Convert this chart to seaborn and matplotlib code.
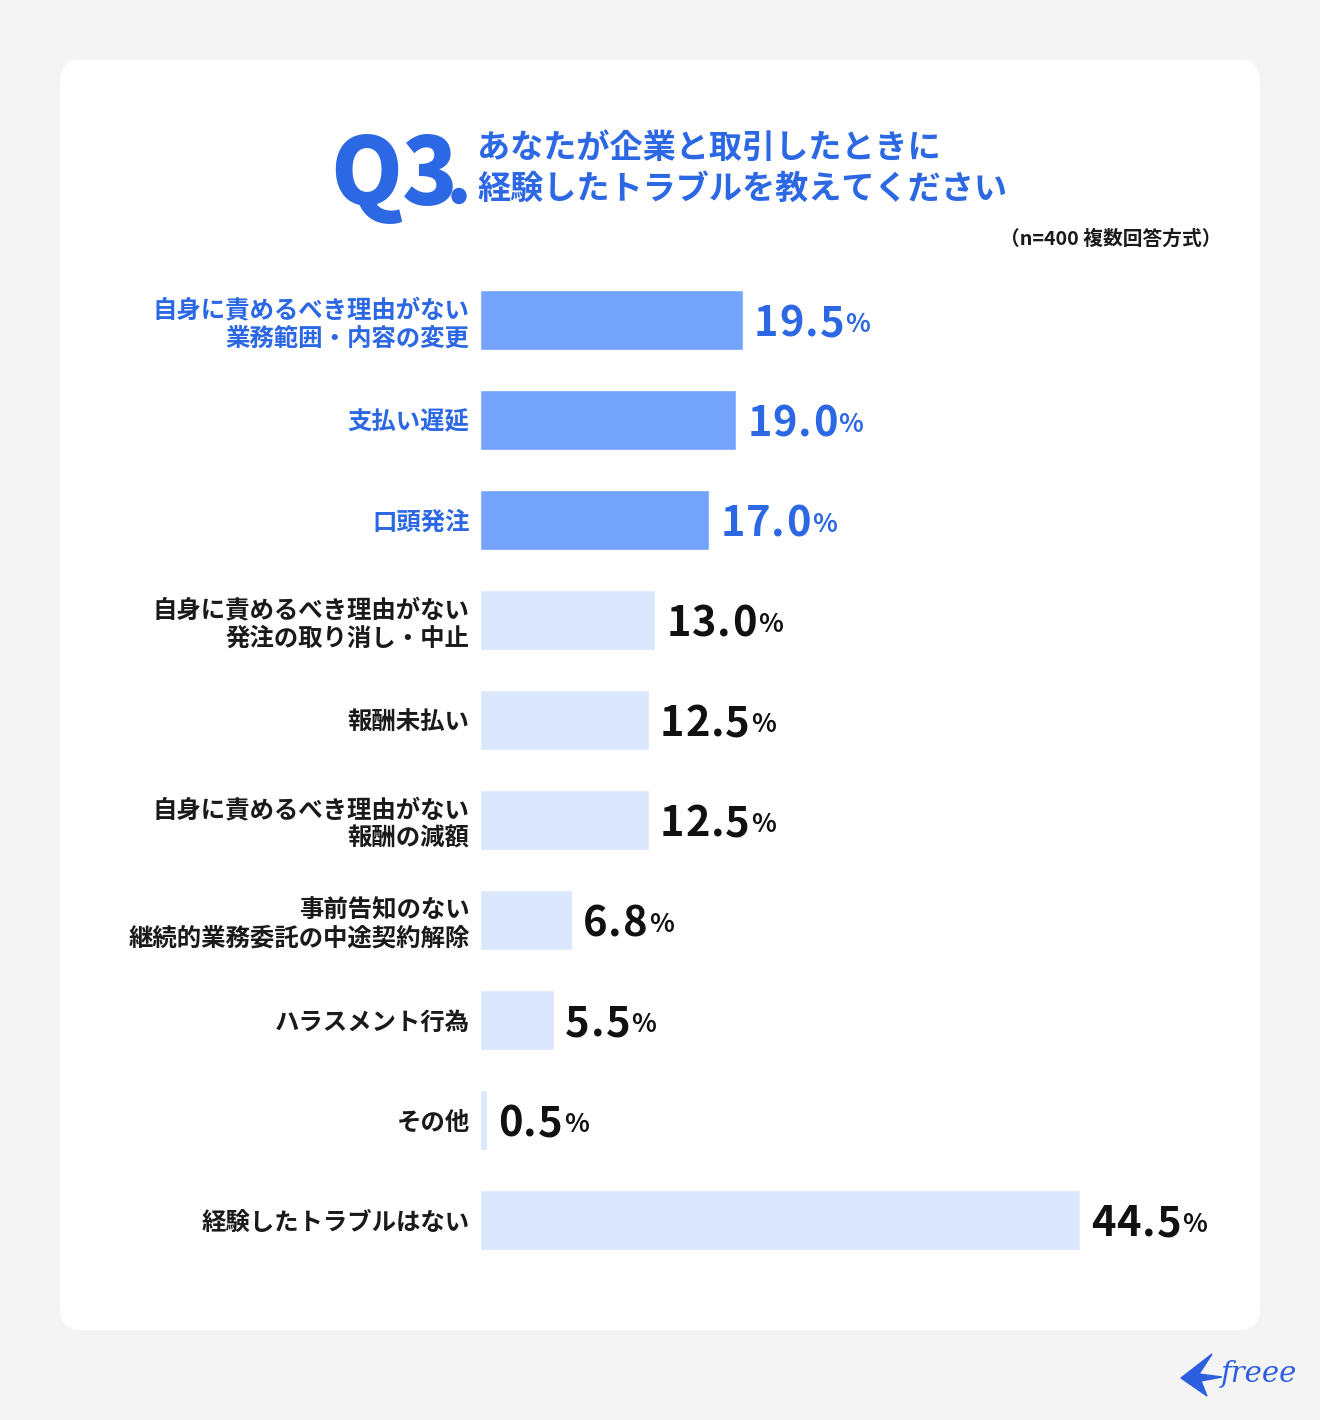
import matplotlib
matplotlib.use("Agg")
import matplotlib.pyplot as plt
import seaborn as sns
import pandas as pd
from matplotlib.patches import FancyBboxPatch, Polygon

categories = [
    "自身に責めるべき理由がない\n業務範囲・内容の変更",
    "支払い遅延",
    "口頭発注",
    "自身に責めるべき理由がない\n発注の取り消し・中止",
    "報酬未払い",
    "自身に責めるべき理由がない\n報酬の減額",
    "事前告知のない\n継続的業務委託の中途契約解除",
    "ハラスメント行為",
    "その他",
    "経験したトラブルはない",
]
values = [19.5, 19.0, 17.0, 13.0, 12.5, 12.5, 6.8, 5.5, 0.5, 44.5]
highlight = [True, True, True, False, False, False, False, False, False, False]

title_q = "Q3"
title_lines = "あなたが企業と取引したときに\n経験したトラブルを教えてください"
note = "（n=400 複数回答方式）"

BG = "#f5f4f5"
BLUE_TXT = "#2c68e3"
BLUE_BAR = "#73a3fb"
LIGHT_BAR = "#dbe7fd"
DARK = "#111111"
JP = ["Noto Sans CJK JP", "DejaVu Sans"]

sns.set_theme(style="white")
plt.rcParams["font.family"] = JP
plt.rcParams["font.weight"] = "bold"

W, H = 1320, 1420
fig = plt.figure(figsize=(W / 100, H / 100), dpi=100, facecolor=BG)

# white card
card = FancyBboxPatch((60 / W, 1 - 1330 / H), 1200 / W, 1270 / H,
                      boxstyle="round,pad=0,rounding_size=0.015",
                      transform=fig.transFigure, facecolor="white",
                      edgecolor="none", zorder=-5)
fig.patches.append(card)

# axes: x from 480px, scale 600px per 44.5%
px_per = 600 / 44.5
ax_left, ax_right = 480, 1260
top_px, bot_px = 270, 1270
ax = fig.add_axes([ax_left / W, 1 - bot_px / H, (ax_right - ax_left) / W, (bot_px - top_px) / H])
ax.patch.set_alpha(0)
ax.set_zorder(2)

df = pd.DataFrame({"cat": categories, "val": values})
colors = [BLUE_BAR if h else LIGHT_BAR for h in highlight]
sns.barplot(data=df, x="val", y="cat", hue="cat", palette=colors, legend=False,
            width=0.6, ax=ax, orient="h", saturation=1)
ax.set_xlim(0, (ax_right - ax_left) / px_per)
ax.set_ylim(9.5, -0.5)
for s in ax.spines.values():
    s.set_visible(False)
ax.set_xlabel("")
ax.set_ylabel("")
ax.set_xticks([])
ax.tick_params(axis="y", length=0, pad=7.5)
ax.set_yticks(range(len(categories)))
ax.set_yticklabels(categories, fontsize=17.6, fontweight="bold", linespacing=1.22)
for lbl, h in zip(ax.get_yticklabels(), highlight):
    lbl.set_color(BLUE_TXT if h else "#1a1a1a")
    lbl.set_horizontalalignment("right")

# value labels (letter-spaced digits + small percent sign)
for i, (v, h) in enumerate(zip(values, highlight)):
    c = BLUE_TXT if h else DARK
    s = f"{v:.1f}"
    prev = ax.annotate(s[0], xy=(v, i), xytext=(8, -3), textcoords="offset points",
                       va="center", ha="left", fontsize=30, fontweight="bold", color=c)
    for ch in s[1:]:
        prev = ax.annotate(ch, xy=(1, 0), xycoords=prev, xytext=(0.7, 0),
                           textcoords="offset points", va="bottom", ha="left",
                           fontsize=30, fontweight="bold", color=c)
    ax.annotate("%", xy=(1, 0), xycoords=prev, xytext=(0.8, 5.5), textcoords="offset points",
                va="bottom", ha="left", fontsize=18.5, fontweight="bold", color=c)

# title
fig.text(330 / W, 1 - 205 / H, title_q, fontsize=66, fontweight="heavy", color=BLUE_TXT,
         va="baseline", ha="left")
dot = plt.Circle((459 / W, 1 - 196 / H), 7 / W, transform=fig.transFigure, color=BLUE_TXT)
fig.patches.append(dot)
fig.text(477 / W, 1 - 169 / H, title_lines, fontsize=23.9, fontweight="bold", color=BLUE_TXT,
         va="center", ha="left", linespacing=1.33)
fig.text(1221 / W, 1 - 239 / H, note, fontsize=14.2, fontweight="bold", color="#1a1a1a",
         va="center", ha="right")

# logo
fig.text(1297 / W, 1 - 1374 / H, "freee", fontsize=21, style="italic", color="#2b5fe0",
         family=["DejaVu Serif"], fontweight="normal", va="center", ha="right")
bird = Polygon([(1181 / W, 1 - 1378 / H), (1212 / W, 1 - 1354 / H), (1199 / W, 1 - 1374 / H),
                (1222 / W, 1 - 1377 / H), (1201 / W, 1 - 1381 / H), (1207 / W, 1 - 1396 / H)],
               closed=True, transform=fig.transFigure, color="#2b5fe0")
fig.patches.append(bird)

fig.savefig("out.png", dpi=100, facecolor=BG)
